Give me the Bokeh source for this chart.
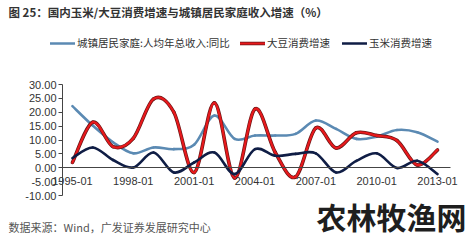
import numpy as np
from bokeh.plotting import figure
from bokeh.models import (ColumnDataSource, FixedTicker, NumeralTickFormatter, Label,
                          Legend, LegendItem, Range1d)
from bokeh.embed import file_html
from bokeh.resources import INLINE

# ---------------- data ----------------
years = list(range(1995, 2014))
income_growth = [22.2, 15.2, 9.2, 5.2, 7.3, 6.7, 8.3, 18.8, 10.4, 11.6,
                 11.6, 12.2, 17.0, 14.0, 10.4, 11.2, 13.6, 12.8, 9.4]
soybean_growth = [1.9, 16.4, 7.6, 10.6, 24.8, 20.0, -1.7, 23.4, -3.7, 21.2,
                  5.5, -3.3, 14.3, 7.1, 12.6, 11.6, 9.8, 1.0, 6.4]
corn_growth = [3.5, 7.3, 2.8, 0.1, 5.5, -1.7, 1.9, 5.5, -2.3, 6.7,
               4.3, 5.0, 5.2, -1.7, 2.5, 5.2, -0.1, 2.5, -2.3]
series_names = ["城镇居民家庭:人均年总收入:同比", "大豆消费增速", "玉米消费增速"]
x_tick_years = [1995, 1998, 2001, 2004, 2007, 2010, 2013]
x_tick_labels = ["1995-01", "1998-01", "2001-01", "2004-01", "2007-01", "2010-01", "2013-01"]
y_ticks = [-10, -5, 0, 5, 10, 15, 20, 25, 30]
title_text = "图 25：国内玉米/大豆消费增速与城镇居民家庭收入增速（%）"
source_text = "数据来源：Wind，广发证券发展研究中心"
watermark_text = "农林牧渔网"

W, H = 476, 240
# plot area (canvas px) and its data bounds
FL, FR, FT, FB = 62, 450, 84, 195
X0, X1, Y0, Y1 = 1994.51, 2013.64, -10.0, 30.0
sx = (FR - FL) / (X1 - X0)
sy = (FB - FT) / (Y1 - Y0)
x_range = Range1d(X0 - FL / sx, X1 + (W - FR) / sx)
y_range = Range1d(Y0 - (H - FB) / sy, Y1 + FT / sy)

def smooth_segments(xs, ys):
    xs = np.asarray(xs, float); ys = np.asarray(ys, float)
    n = len(xs)
    xp = np.concatenate([[xs[0]], xs, [xs[-1]]])
    yp = np.concatenate([[ys[0]], ys, [ys[-1]]])
    d = dict(x0=[], y0=[], x1=[], y1=[], cx0=[], cy0=[], cx1=[], cy1=[])
    for i in range(n - 1):
        p0x, p0y = xp[i], yp[i]
        p1x, p1y = xp[i + 1], yp[i + 1]
        p2x, p2y = xp[i + 2], yp[i + 2]
        p3x, p3y = xp[i + 3], yp[i + 3]
        d["x0"].append(p1x); d["y0"].append(p1y)
        d["x1"].append(p2x); d["y1"].append(p2y)
        d["cx0"].append(p1x + (p2x - p0x) / 6); d["cy0"].append(p1y + (p2y - p0y) / 6)
        d["cx1"].append(p2x - (p3x - p1x) / 6); d["cy1"].append(p2y - (p3y - p1y) / 6)
    return ColumnDataSource(d)

p = figure(width=W, height=H, output_backend="svg", toolbar_location=None,
           x_range=x_range, y_range=y_range,
           min_border_left=0, min_border_right=0, min_border_top=0, min_border_bottom=0)
p.outline_line_color = None
p.xgrid.visible = False
p.ygrid.visible = False

bez = dict(x0="x0", y0="y0", x1="x1", y1="y1", cx0="cx0", cy0="cy0", cx1="cx1", cy1="cy1")
r_blue = p.bezier(source=smooth_segments(years, income_growth), line_color="#5b8ab3",
                  line_width=2.6, line_cap="round", **bez)
r_red_sh = p.bezier(source=smooth_segments(years, soybean_growth), line_color="#6b1616",
                    line_width=3.6, line_cap="round", **bez)
r_red = p.bezier(source=smooth_segments(years, soybean_growth), line_color="#e8191c",
                 line_width=2.2, line_cap="round", **bez)
r_navy = p.bezier(source=smooth_segments(years, corn_growth), line_color="#0f1d45",
                  line_width=2.6, line_cap="round", **bez)

# axes drawn inside the full-canvas frame
p.yaxis.fixed_location = X0
p.yaxis.bounds = (Y0, Y1)
p.yaxis.ticker = FixedTicker(ticks=y_ticks)
p.yaxis.formatter = NumeralTickFormatter(format="0.00")
p.yaxis.axis_line_color = "#444444"
p.yaxis.major_tick_line_color = "#444444"
p.yaxis.major_tick_out = 4
p.yaxis.major_tick_in = 0
p.yaxis.minor_tick_line_color = None
p.yaxis.major_label_text_font = "Liberation Sans"
p.yaxis.major_label_text_font_size = "11px"
p.yaxis.major_label_text_color = "#333333"
p.yaxis.major_label_standoff = 2

p.xaxis.fixed_location = 0
p.xaxis.bounds = (X0, X1)
p.xaxis.ticker = FixedTicker(ticks=x_tick_years)
p.xaxis.major_label_overrides = {y: s for y, s in zip(x_tick_years, x_tick_labels)}
p.xaxis.axis_line_color = "#444444"
p.xaxis.major_tick_line_color = None
p.xaxis.minor_tick_line_color = None
p.xaxis.major_label_text_font = "Liberation Sans"
p.xaxis.major_label_text_font_size = "11px"
p.xaxis.major_label_text_color = "#333333"
p.xaxis.major_label_standoff = 3

# series legends (one per item for exact placement)
def add_legend(label, renderers, x_canvas):
    lg = Legend(items=[LegendItem(label=label, renderers=renderers)],
                location=(x_canvas, H - 43 - 7), orientation="horizontal",
                border_line_color=None, background_fill_alpha=0, padding=0, margin=0,
                glyph_width=25, glyph_height=12, label_height=12, label_standoff=2,
                label_text_font="Noto Sans CJK SC", label_text_font_size="10.5px",
                label_text_color="#333333")
    p.add_layout(lg, "center")

add_legend(series_names[0], [r_blue], 50)
add_legend(series_names[1], [r_red_sh, r_red], 240)
add_legend(series_names[2], [r_navy], 342)

# decorative horizontal rules (drawn as legend line samples of empty line renderers)
def add_rule(x_left, x_right, y_canvas, color, width):
    r = p.line(x=[], y=[], line_color=color, line_width=width)
    lg = Legend(items=[LegendItem(label=" ", renderers=[r])],
                location=(x_left, H - y_canvas - 1), orientation="horizontal",
                border_line_color=None, background_fill_alpha=0, padding=0, margin=0,
                glyph_width=x_right - x_left, glyph_height=2, label_height=2,
                label_width=0, label_standoff=0, label_text_font_size="2px",
                inactive_fill_alpha=0)
    p.add_layout(lg, "center")

add_rule(5, 475, 21, "#808080", 1.5)
add_rule(0, 472, 213, "#909090", 1.0)

def label(text, cx, cy, size, color, bold=False, font="Noto Sans CJK SC"):
    lb = Label(x=cx, y=H - cy, x_units="screen", y_units="screen", text=text,
               text_font=font, text_font_size=size, text_color=color,
               text_font_style="bold" if bold else "normal", text_baseline="middle")
    p.add_layout(lb)

label(title_text, 8, 11, "11.5px", "#333333", bold=True)
label(source_text, 8, 226, "11px", "#555555")
label(watermark_text, 316, 215, "30px", "#1e1e1e", bold=True)

open("out.html", "w").write(file_html(p, INLINE))
